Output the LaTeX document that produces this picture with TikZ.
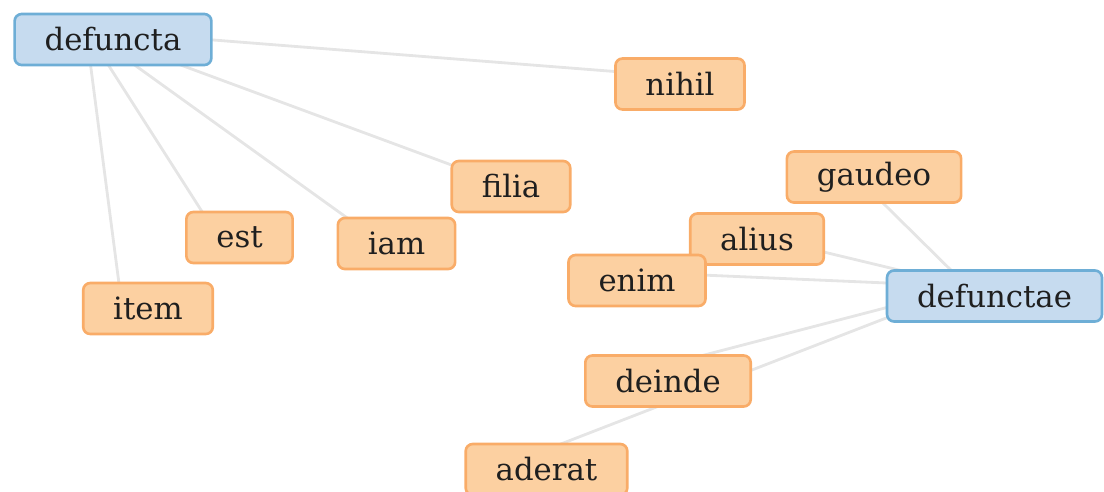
\documentclass[tikz,border=0pt]{standalone}
\usepackage{fontspec}
\setmainfont{DejaVu Serif}
\usetikzlibrary{calc,backgrounds}

\definecolor{leafFill}{RGB}{252,208,161}
\definecolor{leafLine}{RGB}{249,172,104}
\definecolor{hubFill}{RGB}{198,219,239}
\definecolor{hubLine}{RGB}{110,174,214}
\definecolor{linkGray}{RGB}{229,229,229}

\begin{document}
\begin{tikzpicture}[x=0.02cm,y=-0.02cm,
	word/.style={draw=leafLine,fill=leafFill,line width=1.5pt,rounded corners=4pt,
		minimum height=1.02cm,inner xsep=0.6cm,text=black!88,font=\fontsize{17.5}{20}\selectfont},
	hub/.style={word,draw=hubLine,fill=hubFill},
	link/.style={draw=linkGray,line width=1.6pt}]
\useasboundingbox (0,0) rectangle (1104,491);

% left cluster
\node[hub] (defuncta) at (113,39.5) {defuncta};
\node[word] (nihil) at (680,84) {nihil};
\node[word] (filia) at (511,186.5) {filia};
\node[word] (est) at (239.5,237.5) {est};
\node[word] (iam) at (396.5,243.5) {iam};
\node[word] (item) at (148,308.5) {item};

% right cluster
\node[word] (gaudeo) at (874,177) {gaudeo};
\node[word] (alius) at (757,239) {alius};
\node[word] (enim) at (637,280.5) {enim};
\node[hub] (defunctae) at (994.5,296) {defunctae};
\node[word] (deinde) at (668,381) {deinde};
\node[word] (aderat) at (546.5,469.5) {aderat};

\begin{scope}[on background layer]
\foreach \a/\b in {defuncta/nihil,defuncta/filia,defuncta/iam,defuncta/est,defuncta/item,
	defunctae/gaudeo,defunctae/alius,defunctae/enim,defunctae/deinde,defunctae/aderat}{
	\draw[link] ($(\a)+(-27,-9.5)$) -- ($(\b)+(-27,-9.5)$);
}
\end{scope}

\end{tikzpicture}
\end{document}
